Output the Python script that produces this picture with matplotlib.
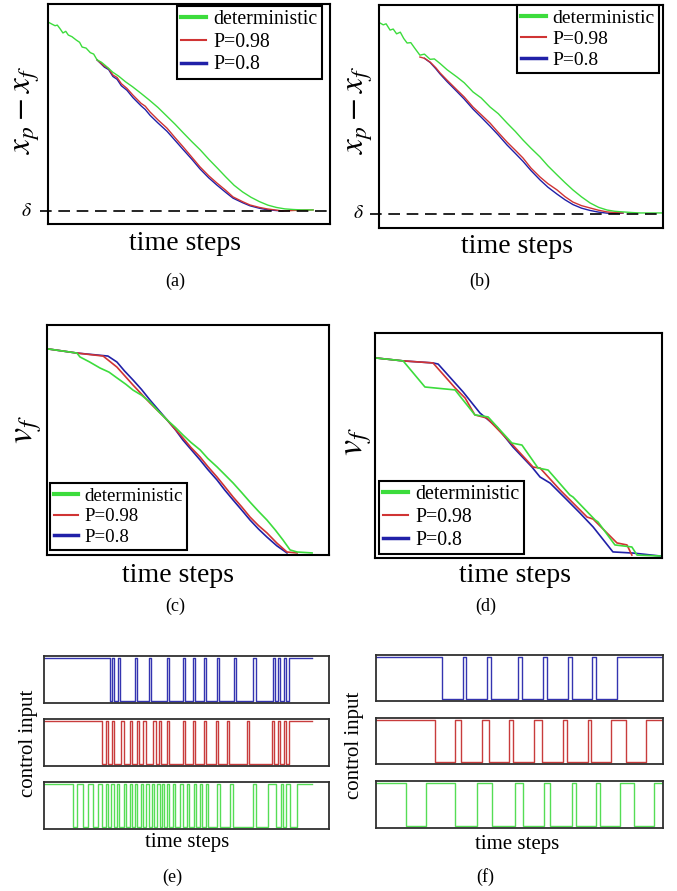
import matplotlib
matplotlib.use('Agg')
import matplotlib.pyplot as plt
from matplotlib.lines import Line2D

plt.rcParams['font.family'] = ['Liberation Serif', 'DejaVu Serif']
plt.rcParams['mathtext.fontset'] = 'stix'

W, H = 677, 891

GREEN = '#3cdc3c'
RED = '#d03434'
BLUE = '#2020a8'

labels = ['deterministic', 'P=0.98', 'P=0.8']

# ---- (a) x_p - x_f ----
a_green_x = [0.4, 1.5, 2.5, 3.3, 4.2, 5.3, 6.3, 7.2, 8.5, 10, 11.2, 12.1, 13.5, 15, 16.2, 17.4, 19, 21, 23, 25,
             27.5, 30, 33, 36, 39, 42, 45, 48, 51, 54, 57, 60, 63, 66, 69, 72, 75, 78, 81, 84, 87, 90, 94]
a_green_y = [0.91, 0.902, 0.895, 0.898, 0.882, 0.86, 0.868, 0.85, 0.842, 0.826, 0.815, 0.792, 0.787, 0.765, 0.758,
             0.73, 0.718, 0.695, 0.67, 0.652, 0.624, 0.60, 0.568, 0.535, 0.50, 0.46, 0.42, 0.377, 0.335, 0.295,
             0.25, 0.208, 0.165, 0.124, 0.092, 0.066, 0.045, 0.028, 0.017, 0.01, 0.007, 0.005, 0.005]
a_red_x = [17.4, 20, 21.5, 23, 24.5, 26, 28, 30.1, 33, 34.5, 36.2, 39, 42.2, 45, 47.9, 51, 53.9, 57, 59.9, 63,
           65.6, 69, 71.6, 75, 77.7, 81, 83.3, 88, 94]
a_red_y = [0.73, 0.70, 0.688, 0.657, 0.645, 0.615, 0.592, 0.56, 0.52, 0.506, 0.478, 0.44, 0.40, 0.355, 0.31,
           0.26, 0.213, 0.17, 0.135, 0.10, 0.068, 0.045, 0.029, 0.017, 0.01, 0.004, 0.0, 0.003, 0.005]
a_blue_x = [17.4, 20, 21.5, 23, 24.5, 26, 28, 30.1, 33, 34.5, 36.2, 39, 42.2, 45, 47.9, 51, 53.9, 57, 59.9, 63,
            65.6, 69, 71.6, 75, 77.7, 81, 83.3]
a_blue_y = [0.73, 0.695, 0.683, 0.65, 0.636, 0.605, 0.583, 0.548, 0.508, 0.49, 0.462, 0.425, 0.385, 0.342, 0.297,
            0.25, 0.203, 0.16, 0.125, 0.09, 0.062, 0.04, 0.025, 0.013, 0.006, 0.002, 0.0]

# ---- (b) x_p - x_f ----
b_green_x = [0.35, 1.5, 2.5, 3.9, 5, 6.2, 7.5, 8.7, 9.9, 11.2, 12.5, 14.4, 16, 18, 19.5, 21.5, 24, 27.5, 30, 33.1,
             36, 39.1, 42, 45.1, 48, 50.7, 53.5, 56.7, 59.5, 62.7, 65.5, 68.3, 71.3, 74.3, 77.3, 80.3, 83, 85.9,
             89, 91.9, 96, 99.6]
b_green_y = [0.914, 0.905, 0.91, 0.88, 0.885, 0.862, 0.87, 0.84, 0.818, 0.82, 0.795, 0.76, 0.765, 0.74, 0.742,
             0.72, 0.69, 0.655, 0.628, 0.584, 0.555, 0.512, 0.48, 0.435, 0.395, 0.354, 0.315, 0.273, 0.23, 0.187,
             0.15, 0.115, 0.082, 0.053, 0.032, 0.019, 0.013, 0.01, 0.007, 0.005, 0.005, 0.005]
b_red_x = [14.4, 16, 18, 20, 21.5, 24, 27.5, 30, 33.1, 36, 39.1, 42, 45.1, 48, 50.7, 53.5, 56.7, 59.5, 62.7,
           65.5, 68.3, 71.3, 74.3, 77.3, 80.3, 83, 85.9]
b_red_y = [0.751, 0.745, 0.727, 0.70, 0.675, 0.64, 0.593, 0.56, 0.512, 0.475, 0.435, 0.39, 0.344, 0.305, 0.268,
           0.22, 0.177, 0.145, 0.115, 0.083, 0.057, 0.04, 0.029, 0.018, 0.01, 0.007, 0.005]
b_blue_x = [16, 18, 20, 21.5, 24, 27.5, 30, 33.1, 36, 39.1, 42, 45.1, 48, 50.7, 53.5, 56.7, 59.5, 62.7, 65.5,
            68.3, 71.3, 74.3, 77.3, 80.3, 83, 85.9]
b_blue_y = [0.745, 0.725, 0.695, 0.67, 0.633, 0.585, 0.55, 0.502, 0.463, 0.42, 0.378, 0.33, 0.29, 0.252, 0.208,
            0.163, 0.128, 0.095, 0.068, 0.045, 0.028, 0.017, 0.009, 0.004, 0.003, 0.004]

# ---- (c) v_f ----
c_green_x = [0.35, 10.6, 11.7, 15, 18.8, 22, 24.8, 28, 30.5, 33.5, 36.5, 39.5, 42.6, 45.5, 48.2, 51, 54.3, 57,
             60.3, 63, 66, 69, 72, 75, 78, 81, 83.7, 86.2, 88.7, 94]
c_green_y = [0.896, 0.878, 0.861, 0.84, 0.813, 0.795, 0.77, 0.742, 0.717, 0.695, 0.665, 0.625, 0.587, 0.555,
             0.522, 0.49, 0.457, 0.42, 0.383, 0.35, 0.313, 0.272, 0.23, 0.19, 0.152, 0.108, 0.065, 0.022, 0.013,
             0.009]
c_red_x = [0.35, 10.6, 19.9, 24.8, 30.5, 36.5, 42.6, 48.2, 51, 54.3, 57, 60.3, 63, 66, 69, 72, 75, 78, 81.5,
           85.1, 88.7]
c_red_y = [0.896, 0.878, 0.865, 0.817, 0.739, 0.661, 0.587, 0.509, 0.468, 0.426, 0.385, 0.339, 0.298, 0.252,
           0.21, 0.165, 0.128, 0.096, 0.052, 0.013, 0.009]
c_blue_x = [0.35, 10.6, 21.6, 24.8, 27.5, 30.5, 33.5, 36.5, 42.6, 45.5, 48.2, 51, 54.3, 57, 60.3, 63, 66, 69, 72,
            75, 78, 81.5, 85.1]
c_blue_y = [0.896, 0.878, 0.865, 0.839, 0.8, 0.761, 0.72, 0.674, 0.587, 0.545, 0.5, 0.46, 0.413, 0.372, 0.326,
            0.283, 0.239, 0.196, 0.152, 0.113, 0.078, 0.04, 0.009]

# ---- (d) v_f ----
d_green_x = [0.35, 9.8, 17.4, 27.9, 34.8, 39.4, 47.7, 51.2, 56.8, 60.3, 67.9, 69, 76.7, 77.7, 83.6, 89.5, 91.3,
             99.3]
d_green_y = [0.889, 0.876, 0.76, 0.747, 0.636, 0.627, 0.511, 0.502, 0.40, 0.391, 0.28, 0.271, 0.169, 0.16,
             0.058, 0.049, 0.013, 0.009]
d_red_x = [0.35, 9.8, 20.2, 27.9, 31.4, 34.8, 39, 47, 55.1, 57.5, 64.5, 73.9, 76, 84.3, 87.8, 89.5]
d_red_y = [0.889, 0.876, 0.867, 0.756, 0.711, 0.636, 0.622, 0.516, 0.404, 0.40, 0.302, 0.182, 0.173, 0.067,
           0.058, 0.013]
d_blue_x = [0.35, 9.8, 20.2, 22, 30.7, 36.6, 42.5, 48.1, 54.7, 57.5, 61, 66.9, 71.4, 76, 82.9, 89.9, 99.3]
d_blue_y = [0.889, 0.876, 0.867, 0.862, 0.738, 0.644, 0.582, 0.493, 0.404, 0.36, 0.333, 0.258, 0.2, 0.138,
            0.027, 0.022, 0.009]

# ---- (e) control input switching times (signal starts high) ----
e_end = 94.0
e_blue = [23.0, 23.7, 24.4, 25.9, 26.7, 32.0, 32.8, 36.7, 37.5, 43.1, 43.9, 48.7, 49.4, 52.2, 53.0, 56.0, 56.8,
          60.7, 61.5, 66.5, 67.3, 73.5, 74.5, 80.2, 80.9, 82.0, 82.7, 84.1, 84.9, 85.8]
e_red = [20.4, 21.6, 22.4, 23.8, 24.6, 27.1, 27.9, 30.2, 31.0, 32.6, 33.4, 34.9, 35.7, 38.4, 39.2, 40.4, 41.2,
         43.1, 43.9, 48.7, 49.5, 52.2, 53.0, 56.0, 56.8, 60.4, 61.2, 64.2, 65.0, 71.2, 72.0, 80.0, 80.8, 82.0,
         82.8, 84.1, 84.9, 85.8]
e_green = [10.3, 11.5, 13.8, 15.3, 17.1, 18.9, 20.3, 21.8, 22.6, 23.5, 24.4, 25.5, 26.4, 27.9, 28.7, 30.0, 30.8,
           32.0, 32.8, 34.0, 34.8, 35.8, 36.7, 37.8, 38.6, 39.8, 40.6, 41.3, 42.2, 43.1, 43.9, 45.2, 46.0, 47.8,
           48.6, 50.1, 50.9, 52.5, 53.3, 54.6, 55.4, 56.8, 57.6, 60.7, 61.8, 65.3, 66.3, 73.5, 74.5, 78.6, 81.4,
           83.1, 83.8, 84.9, 86.4, 88.8]

# ---- (f) control input switching times ----
f_end = 100.0
f_blue = [23.0, 30.3, 31.5, 38.8, 39.9, 49.5, 50.7, 58.3, 59.7, 67.0, 68.3, 75.4, 76.6, 83.9]
f_red = [20.6, 27.6, 29.7, 37.0, 39.3, 46.4, 47.8, 55.1, 58.0, 65.3, 66.4, 73.7, 74.8, 81.9, 87.1, 94.2]
f_green = [10.3, 17.5, 27.6, 35.2, 40.4, 48.4, 51.3, 58.6, 60.6, 68.4, 69.6, 76.7, 78.1, 85.1, 90.0, 97.0]


def px_axes(fig, l, t, r, b):
    ax = fig.add_axes([l / W, 1 - b / H, (r - l) / W, (b - t) / H])
    ax.set_xticks([])
    ax.set_yticks([])
    for s in ax.spines.values():
        s.set_linewidth(1.5)
        s.set_color('black')
    return ax


def ftext(fig, x, y, s, **kw):
    fig.text(x / W, 1 - y / H, s, ha='center', va='center', **kw)


def curve_legend(ax, loc, anchor, size=14.3):
    handles = [Line2D([], [], color=GREEN, lw=3),
               Line2D([], [], color=RED, lw=1.5),
               Line2D([], [], color=BLUE, lw=2.5)]
    leg = ax.legend(handles, labels, loc=loc, bbox_to_anchor=anchor, fontsize=size,
                    frameon=True, fancybox=False, framealpha=1, edgecolor='black',
                    handlelength=1.25, handletextpad=0.35, labelspacing=0.18,
                    borderpad=0.22, borderaxespad=0)
    leg.get_frame().set_linewidth(1.5)


fig = plt.figure(figsize=(W / 100, H / 100), dpi=100)

# (a)
ax = px_axes(fig, 48, 4, 330, 224)
ax.plot(a_blue_x, a_blue_y, color=BLUE, lw=1)
ax.plot(a_red_x, a_red_y, color=RED, lw=1)
ax.plot(a_green_x, a_green_y, color=GREEN, lw=1)
ax.plot([-3, 100], [0, 0], ls=(0, (7, 4)), color='black', lw=1.2, clip_on=False)
ax.set_xlim(0, 100)
ax.set_ylim(-0.063, 1.0)
curve_legend(ax, 'upper left', (0.457, 0.991))

# (b)
ax = px_axes(fig, 379, 5, 663, 228)
ax.plot(b_blue_x, b_blue_y, color=BLUE, lw=1)
ax.plot(b_red_x, b_red_y, color=RED, lw=1)
ax.plot(b_green_x, b_green_y, color=GREEN, lw=1)
ax.plot([-3, 100], [0, 0], ls=(0, (7, 4)), color='black', lw=1.2, clip_on=False)
ax.set_xlim(0, 100)
ax.set_ylim(-0.067, 1.0)
curve_legend(ax, 'upper left', (0.486, 1.0), size=14)

# (c)
ax = px_axes(fig, 47, 325, 329, 555)
ax.plot(c_blue_x, c_blue_y, color=BLUE, lw=1.2)
ax.plot(c_red_x, c_red_y, color=RED, lw=1.2)
ax.plot(c_green_x, c_green_y, color=GREEN, lw=1.2)
ax.set_xlim(0, 100)
ax.set_ylim(0, 1)
curve_legend(ax, 'lower left', (0.011, 0.022), size=13.6)

# (d)
ax = px_axes(fig, 375, 333, 662, 558)
ax.plot(d_blue_x, d_blue_y, color=BLUE, lw=1.2)
ax.plot(d_red_x, d_red_y, color=RED, lw=1.2)
ax.plot(d_green_x, d_green_y, color=GREEN, lw=1.2)
ax.set_xlim(0, 100)
ax.set_ylim(0, 1)
curve_legend(ax, 'lower left', (0.014, 0.018))


def control_strip(box, toggles, end, color):
    ax = px_axes(fig, *box)
    for s in ax.spines.values():
        s.set_linewidth(1.3)
        s.set_color('#303030')
    xs = [0] + toggles + [end]
    ys = [1]
    for _ in toggles:
        ys.append(1 - ys[-1])
    ys.append(ys[-1])
    ax.step(xs, ys, where='post', color=color, lw=1)
    ax.set_xlim(0, 100)
    ax.set_ylim(-0.04, 1.04)


# (e)
control_strip((44, 656, 329, 703), e_blue, e_end, '#3434b0')
control_strip((44, 719, 329, 766), e_red, e_end, '#c83c3c')
control_strip((44, 782, 329, 829), e_green, e_end, '#55dd55')

# (f)
control_strip((376, 655, 663, 701), f_blue, f_end, '#3434b0')
control_strip((376, 718, 663, 764), f_red, f_end, '#c83c3c')
control_strip((376, 781, 663, 828), f_green, f_end, '#55dd55')

# labels
ftext(fig, 27, 110, r'$x_p - x_f$', fontsize=24, rotation=90)
ftext(fig, 360, 110, r'$x_p - x_f$', fontsize=24, rotation=90)
ftext(fig, 27, 430, r'$v_f$', fontsize=26, rotation=90)
ftext(fig, 358, 442, r'$v_f$', fontsize=26, rotation=90)
ftext(fig, 26, 211, r'$\delta$', fontsize=14)
ftext(fig, 358, 214, r'$\delta$', fontsize=14)

ftext(fig, 185, 244, 'time steps', fontsize=20)
ftext(fig, 517, 246, 'time steps', fontsize=20)
ftext(fig, 178, 575, 'time steps', fontsize=20)
ftext(fig, 515, 575, 'time steps', fontsize=20)
ftext(fig, 187, 843, 'time steps', fontsize=15)
ftext(fig, 517, 844, 'time steps', fontsize=15)
ftext(fig, 28, 743, 'control input', fontsize=15, rotation=90)
ftext(fig, 355, 745, 'control input', fontsize=15, rotation=90)

ftext(fig, 175, 281, '(a)', fontsize=13)
ftext(fig, 480, 281, '(b)', fontsize=13)
ftext(fig, 175, 606, '(c)', fontsize=13)
ftext(fig, 486, 606, '(d)', fontsize=13)
ftext(fig, 172, 877, '(e)', fontsize=13)
ftext(fig, 485, 877, '(f)', fontsize=13)

fig.savefig('out.png', dpi=100)
